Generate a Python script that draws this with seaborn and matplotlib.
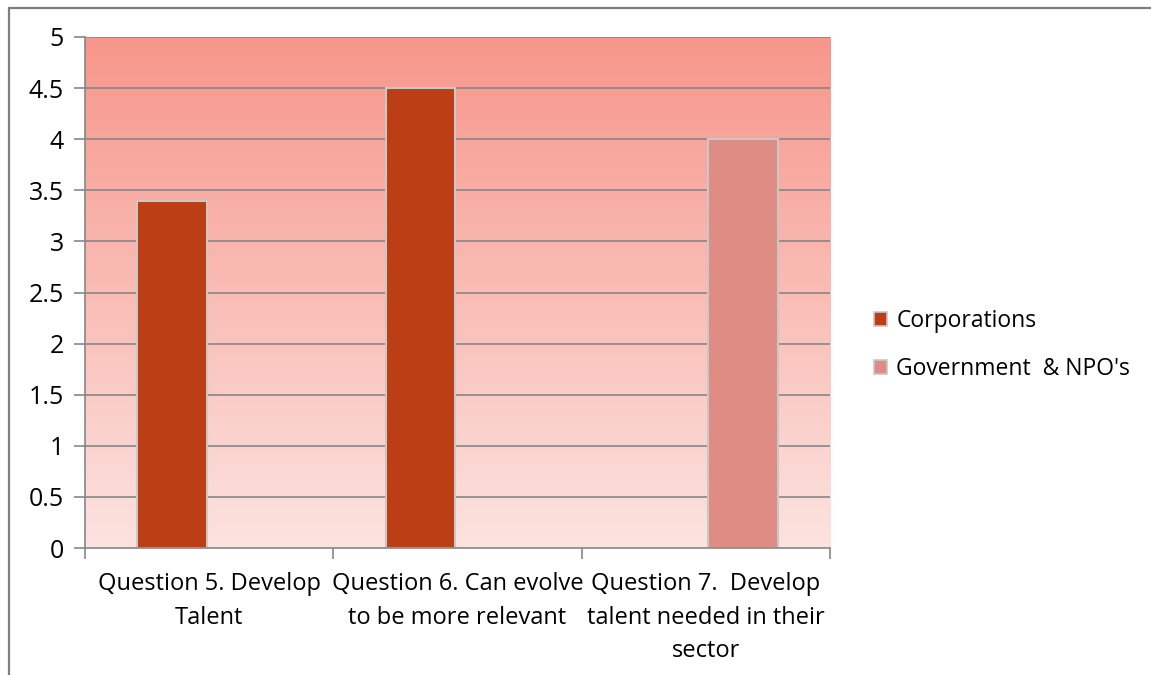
import numpy as np
import pandas as pd
import matplotlib
matplotlib.use("Agg")
import matplotlib.pyplot as plt
import seaborn as sns
from matplotlib.colors import LinearSegmentedColormap
from matplotlib.lines import Line2D
from matplotlib.patches import Patch

# data
categories = ["Question 5. Develop\nTalent",
              "Question 6. Can evolve\nto be more relevant",
              "Question 7.  Develop\ntalent needed in their\nsector"]
corporations = [3.4, 4.5, np.nan]
government = [np.nan, np.nan, 4.0]
series_names = ["Corporations", "Government  & NPO's"]
colors = ["#BB3E14", "#DE8C84"]
yticks = [0, 0.5, 1, 1.5, 2, 2.5, 3, 3.5, 4, 4.5, 5]

df = pd.DataFrame({
    "question": categories * 2,
    "group": [series_names[0]] * 3 + [series_names[1]] * 3,
    "score": corporations + government,
})

sns.set_style("white")
plt.rcParams["font.family"] = ["Open Sans", "DejaVu Sans"]
plt.rcParams["text.color"] = "black"
plt.rcParams["xtick.labelcolor"] = "black"
plt.rcParams["ytick.labelcolor"] = "black"

fig = plt.figure(figsize=(11.51, 6.75), dpi=100)
ax = fig.add_axes([0.0738, 0.1881, 0.6473, 0.7571])

sns.barplot(data=df, x="question", y="score", hue="group", order=categories,
            hue_order=series_names, palette=colors, saturation=1, width=0.6, gap=0.07,
            edgecolor="#C8C8C8", linewidth=1.5, ax=ax, legend=False, zorder=3)

# gradient plot background
grad = LinearSegmentedColormap.from_list("bg", ["#FCE3E0", "#F7968A"])
ax.imshow(np.linspace(0, 1, 256).reshape(-1, 1), cmap=grad, origin="lower",
          extent=[-0.5, 2.5, 0, 5], aspect="auto", zorder=0)
ax.set_xlim(-0.5, 2.5)
ax.set_ylim(0, 5)

ax.set_yticks(yticks)
ax.set_yticklabels([f"{t:g}" for t in yticks], fontsize=18)
for t in yticks[1:]:
    ax.axhline(t, color="#868686", linewidth=1.2, zorder=1)

ax.set_xticks(range(3))
ax.set_xticklabels(categories, fontsize=17, linespacing=1.55)
ax.set_xticks([-0.5, 0.5, 1.5, 2.5], minor=True)
ax.tick_params(axis="x", which="major", length=0, pad=17)
ax.tick_params(axis="x", which="minor", length=8, color="#868686", width=1.2,
               direction="out", bottom=True)
ax.tick_params(axis="y", length=8, color="#868686", width=1.2, left=True, pad=7)
ax.set_xlabel("")
ax.set_ylabel("")

for s in ["top", "right"]:
    ax.spines[s].set_visible(False)
for s in ["left", "bottom"]:
    ax.spines[s].set_color("#868686")
    ax.spines[s].set_linewidth(1.2)
    ax.spines[s].set_zorder(4)

handles = [Patch(facecolor=c, edgecolor="#C8C8C8", linewidth=1.2) for c in colors]
fig.legend(handles, series_names, loc="center left", bbox_to_anchor=(0.741, 0.489),
           frameon=False, fontsize=16.5, handlelength=0.6, handleheight=0.6,
           handletextpad=0.4, labelspacing=1.05)

# outer chart border (top and left)
fig.add_artist(Line2D([0.0075, 1.0], [0.988, 0.988], color="#7F7F7F", linewidth=1.6))
fig.add_artist(Line2D([0.0075, 0.0075], [0.0, 0.988], color="#7F7F7F", linewidth=1.6))

fig.savefig("out.png", dpi=100)
